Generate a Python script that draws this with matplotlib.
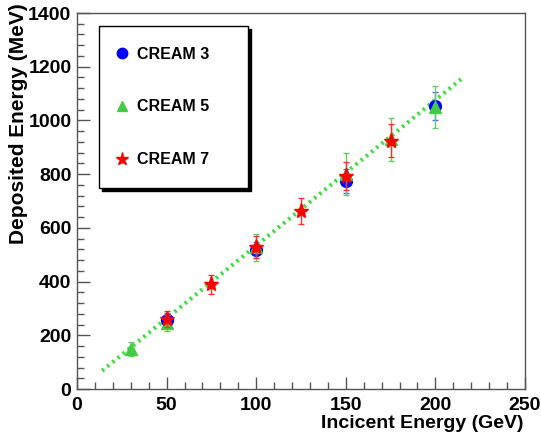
import matplotlib
matplotlib.use("Agg")
import matplotlib.pyplot as plt
import numpy as np
from matplotlib.ticker import MultipleLocator
from matplotlib.lines import Line2D

# ---- data ----
energy_c3 = [50, 100, 150, 200]
dep_c3 = [257, 517, 774, 1053]
err_c3 = [25, 30, 45, 53]

energy_c5 = [30, 50, 100, 150, 175, 200]
dep_c5 = [149, 245, 527, 800, 930, 1050]
err_c5 = [25, 30, 50, 78, 80, 78]

energy_c7 = [50, 75, 100, 125, 150, 175]
dep_c7 = [260, 390, 528, 664, 793, 924]
err_c7 = [30, 36, 40, 48, 53, 61]

fit_slope = 5.42
fit_intercept = -8.0
fit_xmin, fit_xmax = 14, 216

x_ticks = [0, 50, 100, 150, 200, 250]
y_ticks = [0, 200, 400, 600, 800, 1000, 1200, 1400]

FONT = ['Liberation Sans', 'DejaVu Sans']

fig = plt.figure(figsize=(5.41, 4.46), dpi=100)
ax = fig.add_axes([77/541, 1-389/446, (525-77)/541, (389-13)/446])

fx = np.array([fit_xmin, fit_xmax])
ax.plot(fx, fit_slope*fx + fit_intercept, linestyle=(0, (0.6, 1.0)), color='#44dd44',
        linewidth=3.0, zorder=1)

h3 = ax.errorbar(energy_c3, dep_c3, yerr=err_c3, fmt='o', color='#0000ff', ms=8.5,
                 ecolor='#6060ff', elinewidth=1, capsize=2.5, zorder=2, label='CREAM 3')
h5 = ax.errorbar(energy_c5, dep_c5, yerr=err_c5, fmt='^', color='#44cc44', ms=8,
                 ecolor='#66cc66', elinewidth=1, capsize=2.5, zorder=3, label='CREAM 5')
h7 = ax.errorbar(energy_c7, dep_c7, yerr=err_c7, fmt='*', color='#ff0000', ms=11,
                 ecolor='#ff3030', elinewidth=1, capsize=2.5, zorder=4, label='CREAM 7')

ax.set_xlim(0, 250)
ax.set_ylim(0, 1400)
ax.set_xticks(x_ticks)
ax.set_yticks(y_ticks)
ax.xaxis.set_minor_locator(MultipleLocator(10))
ax.yaxis.set_minor_locator(MultipleLocator(40))
ax.tick_params(which='both', direction='in', top=False, right=False, color='#555555')
ax.tick_params(which='major', length=9, width=1)
ax.tick_params(which='minor', length=5, width=1)
ax.tick_params(axis='x', pad=6)
ax.tick_params(axis='y', pad=4)
for lab in ax.get_xticklabels() + ax.get_yticklabels():
    lab.set_family(FONT)
    lab.set_fontweight('bold')
    lab.set_fontsize(14)
for s in ax.spines.values():
    s.set_color('#555555')
    s.set_linewidth(1.0)

ax.set_xlabel('Incicent Energy (GeV)', family=FONT, fontweight='bold', fontsize=14)
ax.xaxis.set_label_coords(0.996, (389-428)/376)
ax.xaxis.label.set_ha('right')
ax.xaxis.label.set_va('baseline')
ax.set_ylabel('Deposited Energy (MeV)', family=FONT, fontweight='bold', fontsize=15)
ax.yaxis.set_label_coords((28-77)/448, (389-3)/376)
ax.yaxis.label.set_ha('right')

leg_handles = [
    Line2D([], [], marker='o', color='#0000ff', linestyle='none', ms=7.5),
    Line2D([], [], marker='^', color='#44cc44', linestyle='none', ms=7.5),
    Line2D([], [], marker='*', color='#ff0000', linestyle='none', ms=9.5),
]
leg = ax.legend(handles=leg_handles, labels=['CREAM 3', 'CREAM 5', 'CREAM 7'],
                loc='upper left',
                bbox_to_anchor=((99-77)/448, (389-186)/376, (248-99)/448, (186-26)/376),
                mode='expand',
                prop={'family': FONT, 'weight': 'bold', 'size': 11.5},
                frameon=True, fancybox=False, shadow={'color': 'black', 'alpha': 1.0},
                borderpad=1.3, labelspacing=2.36, handletextpad=0.76, handlelength=0.3,
                borderaxespad=0)
leg.get_frame().set_edgecolor('black')
leg.get_frame().set_linewidth(1.0)

fig.savefig('out.png', dpi=100)
